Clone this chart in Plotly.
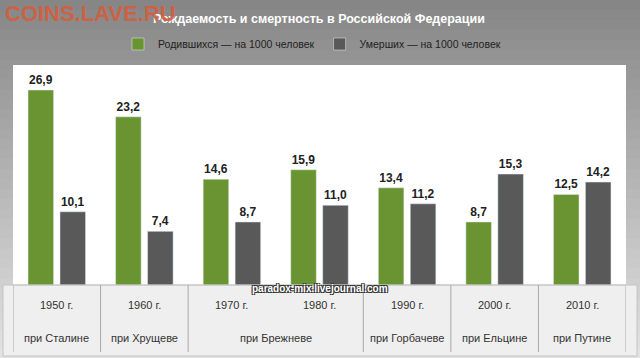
import plotly.graph_objects as go

years = ["1950", "1960", "1970", "1980", "1990", "2000", "2010"]
year_labels = ["1950 г.", "1960 г.", "1970 г.", "1980 г.", "1990 г.", "2000 г.", "2010 г."]
births = [26.9, 23.2, 14.6, 15.9, 13.4, 8.7, 12.5]
deaths = [10.1, 7.4, 8.7, 11.0, 11.2, 15.3, 14.2]
rulers = ["при Сталине", "при Хрущеве", "при Брежневе", "при Горбачеве", "при Ельцине", "при Путине"]
ruler_pos = [0, 1, 2.5, 4, 5, 6]
ruler_bounds = [-0.5, 0.5, 1.5, 3.5, 4.5, 5.5, 6.5]

W, H = 640, 358
L, R, T, B = 13, 14, 65, 73
PW, PH = W - L - R, H - T - B

def px(X):
    return (X - L) / PW

def py(Y):
    return (H - B - Y) / PH

FONT = "Liberation Sans Narrow, Arial Narrow, Liberation Sans, Arial, sans-serif"
GREEN = "#6a9432"
GRAY = "#595959"

fig = go.Figure()
fig.add_bar(x=years, y=births, name="Родившихся — на 1000 человек",
            marker_color=GREEN, texttemplate="<b>%{y:.1f}</b>", textposition="outside",
            textfont=dict(size=12, color="#222", family=FONT), cliponaxis=False)
fig.add_bar(x=years, y=deaths, name="Умерших — на 1000 человек",
            marker_color=GRAY, texttemplate="<b>%{y:.1f}</b>", textposition="outside",
            textfont=dict(size=12, color="#222", family=FONT), cliponaxis=False)

shapes = []
n = 36
def lerp(a, b, t):
    return int(round(a + (b - a) * t))
for i in range(n):
    y0 = i * H / n
    y1 = (i + 1) * H / n
    t = i / (n - 1)
    c = lerp(0x86, 0xe2, t)
    shapes.append(dict(type="rect", xref="paper", yref="paper", layer="below",
                       x0=px(0), x1=px(W), y0=py(y0), y1=py(y1 + 0.5),
                       fillcolor=f"rgb({c},{c},{c})", line_width=0))
shapes.append(dict(type="rect", xref="paper", yref="paper", layer="below",
                   x0=0, x1=1, y0=0, y1=1, fillcolor="white", line_width=0))
shapes.append(dict(type="rect", xref="paper", yref="paper", layer="below",
                   x0=px(3), x1=px(637), y0=py(356), y1=py(285),
                   fillcolor="#efefef", line=dict(color="#c4c4c4", width=1)))
shapes.append(dict(type="line", xref="paper", yref="paper", layer="above",
                   x0=0, x1=1, y0=0, y1=0, line=dict(color="#c8c8c8", width=1)))
for b in ruler_bounds:
    shapes.append(dict(type="line", xref="x", yref="paper", layer="above",
                       x0=b, x1=b, y0=py(285), y1=py(352),
                       line=dict(color="#a8a8a8", width=1)))

annotations = []
for i, lab in enumerate(year_labels):
    annotations.append(dict(x=i, y=py(305), xref="x", yref="paper", text=lab,
                            xanchor="center", yanchor="middle",
                            showarrow=False, font=dict(size=11, color="#333", family=FONT)))
for p, lab in zip(ruler_pos, rulers):
    annotations.append(dict(x=p, y=py(338), xref="x", yref="paper", text=lab,
                            xanchor="center", yanchor="middle",
                            showarrow=False, font=dict(size=11, color="#333", family=FONT)))
annotations.append(dict(x=px(319), y=py(19), xref="paper", yref="paper",
                        xanchor="center", yanchor="middle",
                        text="<b>Рождаемость и смертность в Российской Федерации</b>",
                        showarrow=False, font=dict(size=12.5, color="white", family=FONT)))
annotations.append(dict(x=px(3), y=py(13), xref="paper", yref="paper",
                        xanchor="left", yanchor="middle",
                        text="<b>COINS.LAVE.RU</b>", showarrow=False,
                        font=dict(size=22, color="rgba(212,94,62,0.92)", family="Liberation Sans, Arial, sans-serif")))
annotations.append(dict(x=px(320), y=py(288), xref="paper", yref="paper",
                        xanchor="center", yanchor="middle",
                        text="<b>paradox-mix.livejournal.com</b>", showarrow=False,
                        font=dict(size=10, color="white", family=FONT,
                                  shadow="1px 1px 0 #333, -1px -1px 0 #333, 1px -1px 0 #333, -1px 1px 0 #333")))

fig.update_layout(
    width=W, height=H,
    margin=dict(l=L, r=R, t=T, b=B, pad=0, autoexpand=False),
    paper_bgcolor="#a0a0a0", plot_bgcolor="white",
    separators=", ",
    barmode="group", bargap=0.27, bargroupgap=0.2,
    showlegend=True,
    legend=dict(orientation="h", x=px(312), xanchor="center", y=py(44), yanchor="middle",
                bgcolor="rgba(0,0,0,0)", font=dict(size=10.5, color="#222", family=FONT),
                itemwidth=30, traceorder="normal"),
    xaxis=dict(range=[-0.5, 6.5], showticklabels=False, showgrid=False, zeroline=False,
               showline=False, ticks=""),
    yaxis=dict(range=[0, 30.35], showticklabels=False, showgrid=False, zeroline=False,
               showline=False, ticks=""),
    shapes=shapes, annotations=annotations,
    font=dict(family=FONT),
)

fig.write_html("out.html", config={"displayModeBar": False},
               post_script="document.body.style.margin='0';document.body.style.padding='0';")
